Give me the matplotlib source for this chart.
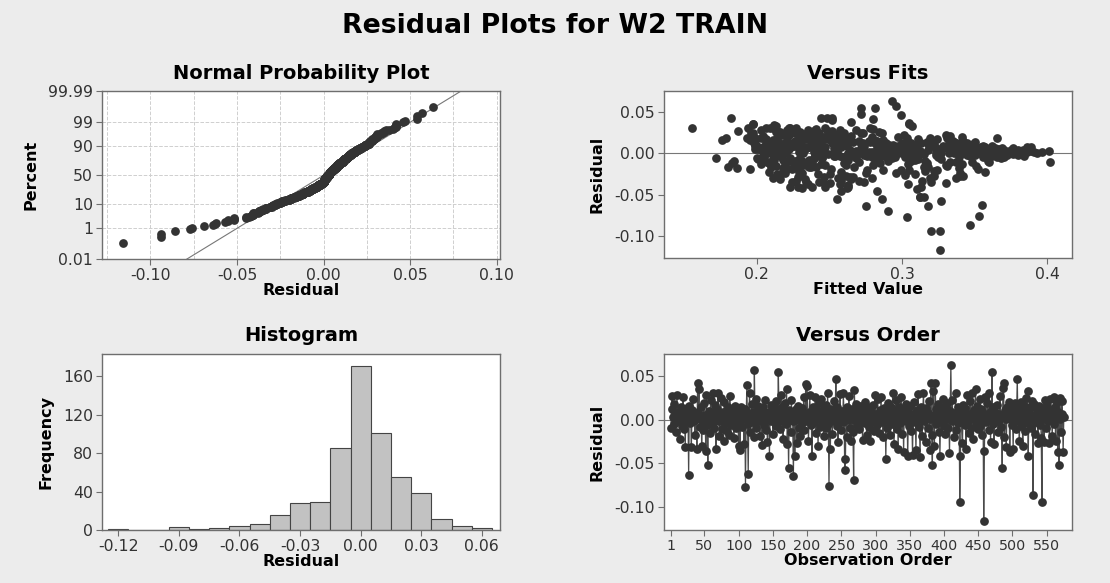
"""
Residual plots for W2 TRAIN (Minitab style 4-in-1 layout)
"""
from statistics import NormalDist

import matplotlib
matplotlib.use("Agg")
import matplotlib.pyplot as plt
import numpy as np


# Residuals in observation order, in thousandths
residuals_milli = [
    -9, 12, 27, 3, -5, 18, 1, -14, 6, 28, 0, -2, 9, -22, 4, 15, -7, 2, 26, -11, 5, -31, 8, 13, -3,
    7, -63, 16, -4, 2, -31, 11, 24, -1, 6, -17, 0, 3, -33, 42, 9, 35, -8, 1, 14, -30, 4, -12, 19, -2,
    5, -36, 28, -6, -52, 10, 1, -15, 22, 3, -3, 30, 8, -9, 0, 17, -34, 4, 12, 31, -1, -19, 6, 25, -11,
    2, 9, -24, 20, -4, 7, 1, -13, 14, 0, -18, 27, 5, -6, 11, -2, 3, -21, 16, 8, -9, 2, 13, -1, -30,
    6, -35, 15, 0, -8, 10, 4, -28, 12, -77, 2, 40, -5, -62, 7, 31, -14, 1, 18, -3, 9, -20, 57, 3, 24,
    -10, 5, 16, -2, 0, -19, 8, 11, -29, 3, 14, -6, 1, 22, -12, 6, -25, 2, 9, -41, 4, 17, -1, 12, -16,
    7, 0, 13, -7, 21, 3, -3, 54, 10, -11, 5, 28, -1, 15, -22, 2, 8, 19, -5, 35, -28, 1, -55, 11, 4,
    -14, 23, 6, -2, -64, 9, -41, 0, 12, -27, 4, 16, -9, 2, -19, 7, 13, -4, 1, 26, -12, 5, 41, -1, 38,
    8, -24, 3, 28, -6, 10, -41, 0, 15, -3, 6, 26, -15, 2, 11, -30, 4, 19, -8, 1, 24, -2, 9, -19, 13,
    3, -10, 17, 0, 30, -5, -76, 7, -33, 12, 2, -16, 5, 21, -1, 9, 46, -7, 14, -25, 4, 1, 29, -12, 6,
    10, -3, 30, 2, -57, -45, 8, -20, 15, 0, 27, -9, 5, -24, 12, 1, -14, -69, 34, 7, -2, 18, -6, 3, 11,
    -11, 4, 16, -1, 8, -23, 0, 12, -4, 20, 2, -17, 6, 14, -8, 1, -24, 9, 3, -2, 17, 5, -13, 28, 0,
    7, -6, 24, 2, -15, 11, 0, 26, -3, 5, -20, 13, 1, 8, -45, 4, -9, 19, -1, 10, -18, 3, 15, -5, 31,
    2, -28, 9, 0, 22, -11, 6, -33, 14, 1, -4, 26, 3, -16, 8, -37, 12, 0, -2, 18, 5, -42, 10, -7, 4,
    16, -13, 1, -40, 7, 20, -3, 3, -35, 11, 0, 29, -8, 5, -43, 14, 2, -19, 9, 31, -1, 6, -26, 13, 4,
    -10, 8, 21, -35, 1, 42, -18, -52, 33, 5, -30, 42, 12, -5, 2, 18, -14, 7, -41, 0, 15, -3, 9, 24, -7,
    4, -16, 13, 1, 19, -9, 6, -38, 10, 63, -2, 22, 3, -20, 8, 0, 31, -12, 5, 15, -4, 11, -94, -41, 2,
    9, -27, 17, 0, -6, 13, -34, 4, 28, -1, 7, -15, 21, 2, -9, 30, 5, -22, 11, 1, 35, -4, 16, -11, 6,
    3, 24, -7, 12, 0, -17, 8, -116, -36, 26, 2, -3, 19, 6, -12, 31, 1, -25, 10, 54, -5, 14, -28, 4, 9,
    -1, 17, 5, -14, 7, 0, 27, -8, 3, -55, 36, 42, -20, 11, 1, -31, 15, 4, 8, 20, -37, 2, 12, -6, 4,
    -33, 10, 0, 19, -11, 5, 47, -2, 14, -24, 3, 20, -7, 8, -30, 1, 16, -13, 6, 25, -4, 33, -42, 11, 2,
    15, -9, 4, 21, -86, 0, 18, -16, 7, -3, 12, -27, 2, 16, -6, 9, -21, -94, 13, 1, -25, 22, 5, -10, 3,
    17, -2, 8, -27, 24, 0, 11, -19, 5, 26, -5, 14, -24, 2, 20, -37, 9, -52, 25, 1, -14, 21, 6, -37, 3,
]

# Fitted values for the same observations, in thousandths
fitted_milli = [
    231, 305, 214, 338, 262, 179, 365, 219, 289, 203, 351, 242, 322, 258, 376, 226, 311, 295, 238, 207, 344, 265, 218, 332, 384,
    357, 275, 251, 302, 229, 233, 318, 197, 371, 244, 180, 336, 212, 227, 182, 289, 197, 263, 349, 206, 256, 387, 317, 241, 294,
    222, 250, 268, 172, 312, 237, 279, 213, 330, 360, 253, 209, 298, 184, 342, 260, 234, 375, 215, 194, 307, 224, 352, 286, 270,
    246, 328, 217, 259, 369, 201, 285, 341, 230, 313, 186, 187, 355, 239, 272, 380, 216, 322, 176, 347, 282, 255, 300, 364, 211,
    273, 243, 335, 220, 309, 254, 358, 266, 228, 303, 340, 252, 245, 355, 284, 211, 232, 296, 365, 204, 320, 276, 296, 374, 226,
    337, 210, 240, 292, 263, 352, 236, 319, 258, 389, 278, 200, 343, 222, 183, 306, 214, 362, 287, 228, 271, 324, 249, 199, 315,
    256, 378, 225, 290, 204, 333, 267, 272, 219, 348, 301, 240, 359, 283, 208, 326, 235, 199, 370, 197, 246, 313, 255, 261, 342,
    280, 232, 364, 217, 318, 297, 238, 345, 209, 261, 383, 254, 223, 308, 195, 329, 244, 356, 272, 213, 339, 203, 280, 315, 265,
    233, 296, 352, 221, 268, 310, 223, 379, 243, 288, 206, 257, 331, 366, 218, 279, 344, 236, 212, 323, 196, 350, 274, 251, 289,
    361, 227, 248, 302, 206, 339, 353, 214, 258, 281, 373, 237, 325, 229, 355, 262, 299, 201, 317, 242, 286, 367, 241, 208, 334,
    294, 216, 227, 348, 327, 283, 201, 305, 270, 232, 252, 359, 244, 219, 337, 277, 261, 290, 212, 386, 323, 193, 239, 299, 349,
    402, 336, 221, 376, 247, 229, 309, 198, 285, 234, 360, 318, 256, 341, 211, 391, 275, 225, 296, 244, 311, 368, 203, 257, 332,
    207, 293, 243, 357, 235, 320, 271, 230, 347, 201, 287, 252, 384, 215, 258, 337, 226, 303, 263, 345, 218, 371, 277, 325, 155,
    253, 228, 362, 300, 217, 281, 234, 314, 266, 343, 205, 249, 378, 241, 329, 304, 220, 358, 274, 233, 350, 231, 291, 211, 327,
    287, 244, 366, 263, 223, 341, 257, 312, 320, 209, 352, 280, 236, 297, 310, 256, 381, 221, 335, 247, 268, 202, 302, 313, 363,
    225, 348, 259, 224, 373, 248, 339, 315, 307, 286, 319, 244, 215, 365, 269, 203, 330, 239, 313, 393, 282, 254, 356, 237, 306,
    318, 236, 273, 354, 214, 290, 369, 263, 228, 293, 345, 254, 382, 324, 205, 301, 222, 260, 357, 237, 279, 340, 320, 247, 396,
    212, 340, 233, 327, 245, 306, 274, 359, 235, 289, 219, 351, 265, 239, 316, 278, 199, 357, 242, 366, 305, 295, 211, 333, 253,
    344, 273, 229, 337, 207, 267, 389, 326, 330, 216, 302, 362, 251, 231, 285, 223, 347, 309, 260, 281, 240, 320, 264, 370, 199,
    311, 206, 353, 247, 328, 282, 249, 218, 361, 286, 305, 252, 299, 230, 375, 216, 342, 264, 204, 297, 247, 336, 287, 223, 380,
    270, 225, 356, 319, 238, 292, 272, 211, 350, 231, 364, 279, 327, 258, 337, 244, 195, 304, 376, 235, 290, 213, 262, 322, 349,
    264, 306, 377, 221, 347, 242, 331, 210, 354, 276, 239, 342, 295, 255, 368, 226, 316, 326, 345, 204, 250, 301, 233, 360, 268,
    238, 372, 208, 322, 260, 297, 344, 229, 366, 284, 259, 214, 340, 386, 246, 235, 304, 312, 272, 359, 228, 333, 283, 257, 401,
]

# Histogram bins (centres) and counts
hist_centres = [-0.12, -0.11, -0.10, -0.09, -0.08, -0.07, -0.06, -0.05, -0.04, -0.03,
                -0.02, -0.01, 0.00, 0.01, 0.02, 0.03, 0.04, 0.05, 0.06]
hist_counts = [1, 0, 0, 3, 1, 2, 4, 6, 16, 28, 29, 85, 171, 101, 55, 38, 11, 4, 2]

prob_ticks = [0.01, 1, 10, 50, 90, 99, 99.99]
prob_tick_labels = ["0.01", "1", "10", "50", "90", "99", "99.99"]
order_ticks = [1, 50, 100, 150, 200, 250, 300, 350, 400, 450, 500, 550]

resid = np.array(residuals_milli) / 1000.0
fits = np.array(fitted_milli) / 1000.0
order = np.arange(1, len(resid) + 1)

# Look and feel
BG = "#ececec"
DOT = "#333333"
SPINE = "#6e6e6e"
MS = 6.3
plt.rcParams["font.family"] = ["DejaVu Sans"]
plt.rcParams["font.size"] = 11

fig = plt.figure(figsize=(11.1, 5.83), dpi=100, facecolor=BG)
fig.suptitle("Residual Plots for W2 TRAIN", fontsize=19.3, fontweight="bold", y=0.978)

ax_np = fig.add_axes([0.0919, 0.5557, 0.3586, 0.2882])
ax_vf = fig.add_axes([0.5982, 0.5575, 0.3676, 0.2864])
ax_hist = fig.add_axes([0.0919, 0.0909, 0.3586, 0.3019])
ax_vo = fig.add_axes([0.5982, 0.0909, 0.3676, 0.3019])


def style_axes(ax, title, xlabel, ylabel):
    ax.set_facecolor("white")
    for sp in ax.spines.values():
        sp.set_color(SPINE)
        sp.set_linewidth(1.0)
    ax.tick_params(colors=SPINE, labelcolor="#333333", labelsize=11.3, length=4, width=0.8, pad=2.5)
    ax.set_title(title, fontsize=14, fontweight="bold", pad=9)
    ax.set_xlabel(xlabel, fontsize=11.5, fontweight="bold", labelpad=0)
    ax.set_ylabel(ylabel, fontsize=11.5, fontweight="bold", labelpad=7)


### Normal probability plot
nd = NormalDist()
n = len(resid)
sorted_resid = np.sort(resid)
ranks = (np.arange(1, n + 1) - 0.3) / (n + 0.4)  # median ranks
z_scores = np.array([nd.inv_cdf(p) for p in ranks])
z_lim = nd.inv_cdf(0.9999)

mu, sd = resid.mean(), resid.std(ddof=1)
ax_np.plot([mu - z_lim * sd, mu + z_lim * sd], [-z_lim, z_lim], color="#777777", lw=0.8, zorder=2)
ax_np.plot(sorted_resid, z_scores, "o", color=DOT, ms=MS, mec="none", zorder=3)
ax_np.set_xlim(-0.128, 0.102)
ax_np.set_ylim(-z_lim, z_lim)
ax_np.set_yticks([nd.inv_cdf(p / 100) for p in prob_ticks])
ax_np.set_yticklabels(prob_tick_labels)
ax_np.set_xticks([-0.10, -0.05, 0.00, 0.05, 0.10])
ax_np.set_xticklabels(["-0.10", "-0.05", "0.00", "0.05", "0.10"])
ax_np.set_xticks(np.arange(-0.125, 0.101, 0.025), minor=True)
ax_np.tick_params(axis="x", which="minor", length=0)
ax_np.grid(True, which="both", axis="x", ls="--", lw=0.7, color="#cfcfcf", zorder=0)
ax_np.grid(True, which="major", axis="y", ls="--", lw=0.7, color="#cfcfcf", zorder=0)
ax_np.set_axisbelow(True)
style_axes(ax_np, "Normal Probability Plot", "Residual", "Percent")

### Versus fits
ax_vf.axhline(0, color="#777777", lw=0.8, zorder=1)
ax_vf.plot(fits, resid, "o", color=DOT, ms=MS, mec="none", zorder=3)
ax_vf.set_xlim(0.136, 0.417)
ax_vf.set_ylim(-0.126, 0.075)
ax_vf.set_xticks([0.2, 0.3, 0.4])
ax_vf.set_xticklabels(["0.2", "0.3", "0.4"])
ax_vf.set_yticks([0.05, 0.00, -0.05, -0.10])
ax_vf.set_yticklabels(["0.05", "0.00", "-0.05", "-0.10"])
style_axes(ax_vf, "Versus Fits", "Fitted Value", "Residual")

### Histogram
ax_hist.bar(hist_centres, hist_counts, width=0.01, color="#c2c2c2", edgecolor="#444444", lw=0.8, zorder=2)
ax_hist.set_xlim(-0.128, 0.069)
ax_hist.set_ylim(0, 183)
ax_hist.set_xticks([-0.12, -0.09, -0.06, -0.03, 0.00, 0.03, 0.06])
ax_hist.set_xticklabels(["-0.12", "-0.09", "-0.06", "-0.03", "0.00", "0.03", "0.06"])
ax_hist.set_yticks([0, 40, 80, 120, 160])
style_axes(ax_hist, "Histogram", "Residual", "Frequency")

### Versus order
ax_vo.axhline(0, color="#777777", lw=0.8, zorder=1)
ax_vo.plot(order, resid, "-", color="#4a4a4a", lw=0.9, zorder=2)
ax_vo.plot(order, resid, "o", color=DOT, ms=MS, mec="none", zorder=3)
ax_vo.set_xlim(-9, 587)
ax_vo.set_ylim(-0.126, 0.075)
ax_vo.set_xticks(order_ticks)
ax_vo.set_yticks([0.05, 0.00, -0.05, -0.10])
ax_vo.set_yticklabels(["0.05", "0.00", "-0.05", "-0.10"])
ax_vo.tick_params(axis="x", labelsize=10.5)
style_axes(ax_vo, "Versus Order", "Observation Order", "Residual")
ax_vo.tick_params(axis="x", labelsize=10.3)

fig.savefig("out.png", dpi=100, facecolor=BG)
